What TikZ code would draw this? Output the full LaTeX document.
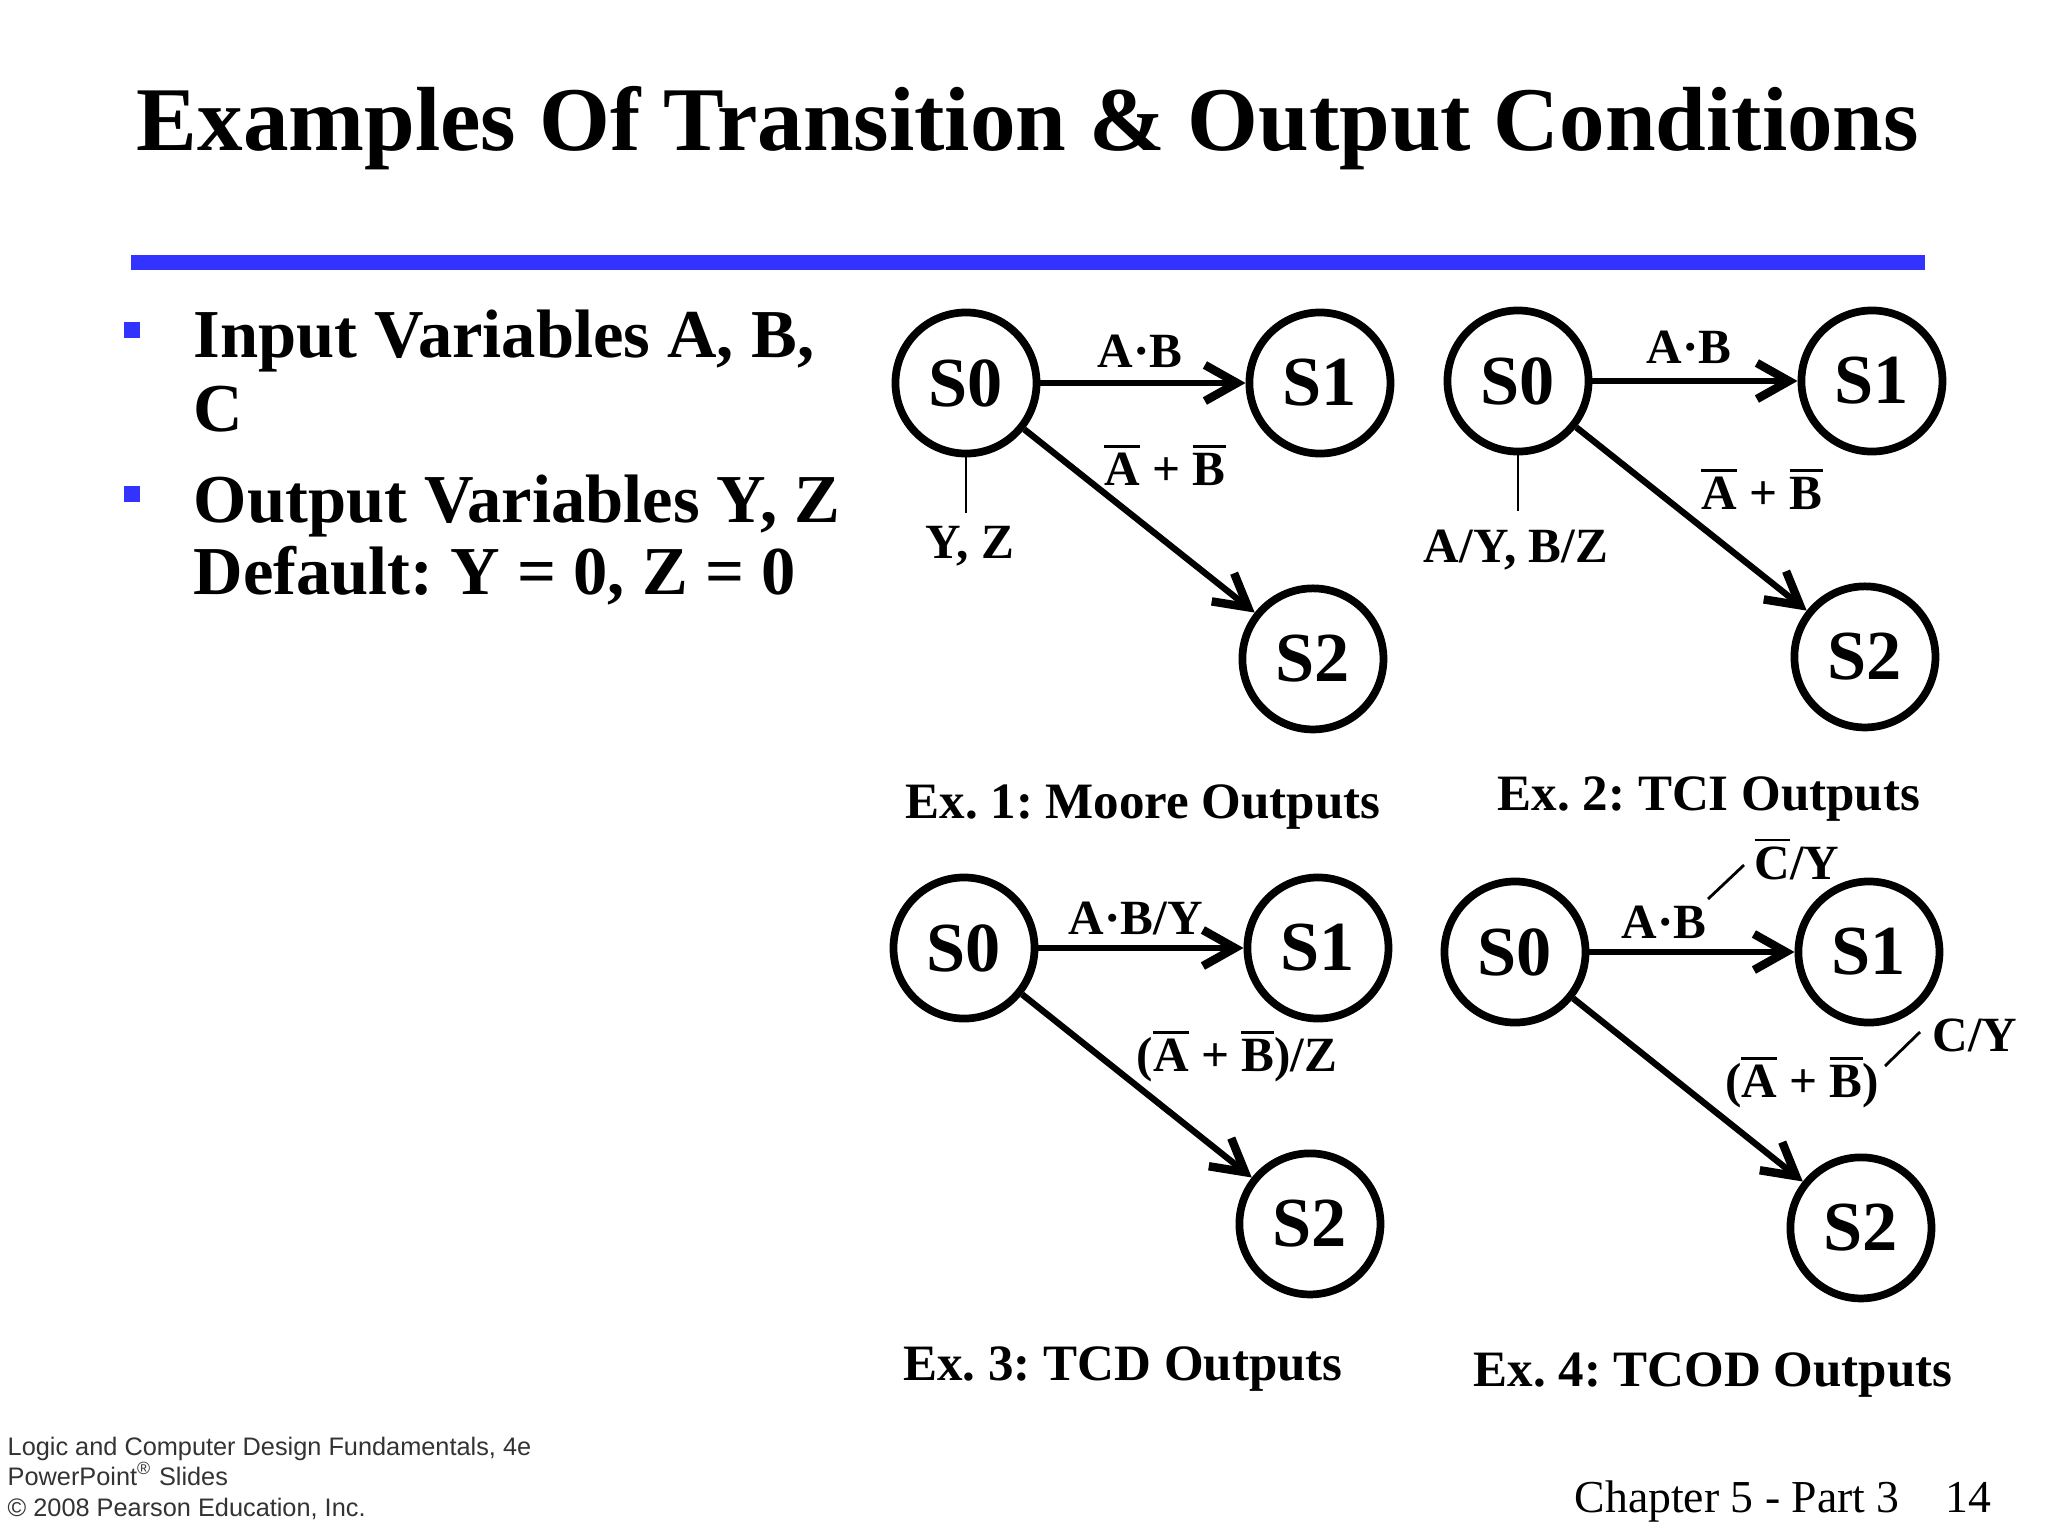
\documentclass[tikz,border=0pt]{standalone}
\usepackage{fontspec}
\setmainfont{Liberation Serif}
\newfontfamily\footfont{Liberation Sans}
\usetikzlibrary{arrows.meta,positioning}
\definecolor{slideblue}{RGB}{51,51,255}
\newcommand{\nbar}[1]{\leavevmode\vbox{\hrule height 0.85pt\kern1.4pt\hbox{#1}}}
\frenchspacing

\begin{document}
\begin{tikzpicture}[x=0.01cm, y=-0.01cm,
  node distance=2.05cm,
  state/.style={circle, draw, line width=2.2pt, minimum size=1.41cm,
    inner sep=0pt, font=\fontsize{20}{24}\selectfont\bfseries},
  lbl/.style={inner sep=0pt, anchor=base,
    font=\fontsize{14}{16}\selectfont\bfseries},
  excap/.style={inner sep=0pt, anchor=base,
    font=\fontsize{14.5}{17}\selectfont\bfseries},
  bulletbox/.style={fill=slideblue, minimum size=0.16cm, inner sep=0pt},
  btext/.style={inner sep=0pt, anchor=base west,
    font=\fontsize{19.5}{23}\selectfont\bfseries},
  foot/.style={inner sep=0pt, anchor=base west, text=black!80,
    font=\footfont\fontsize{7.2}{9}\selectfont},
  arrow/.style={-{Straight Barb[length=3.2mm,width=3.6mm,line width'=2.4pt]},
    line width=1.8pt},
  tick/.style={line width=0.8pt}]
  \fill[white] (0,0) rectangle (2048,1536);
  \useasboundingbox (0,0) rectangle (2048,1536);

  \node[anchor=base, inner sep=0pt, font=\fontsize{25.9}{30}\selectfont\bfseries]
    (title) at (1028,150) {Examples Of Transition \& Output Conditions};
  \fill[slideblue] (131,255) rectangle (1925,270);

  \node[bulletbox] (b1) at (132,330) {};
  \node[btext] (in1) at (193,357) {Input Variables A, B,};
  \node[btext] (in2) at (193,431) {C};
  \node[bulletbox] (b2) at (132,494) {};
  \node[btext] (out1) at (193,522) {Output Variables Y, Z};
  \node[btext] (out2) at (193,594) {Default: Y = 0, Z = 0};

  \node[state] (s0a) at (966,383) {S0};
  \node[state, right=of s0a] (s1a) {S1};
  \node[state, below=1.27cm of s1a, xshift=-0.07cm] (s2a) {S2};
  \coordinate (o1a) at (966,513);
  \draw[arrow] (s0a) -- (s1a);
  \draw[arrow] (s0a) -- (s2a);
  \draw[tick] (s0a) -- (o1a);
  \node[lbl] (ab1) at (1140,367) {A·B};
  \node[lbl] (nab1) at (1165,485) {\nbar{A} + \nbar{B}};
  \node[lbl] (yz1) at (970,558) {Y, Z};
  \node[excap] (ex1) at (1143,818) {Ex. 1: Moore Outputs};

  \node[state] (s0b) at (1518,381) {S0};
  \node[state, right=of s0b] (s1b) {S1};
  \node[state, below=1.27cm of s1b, xshift=-0.07cm] (s2b) {S2};
  \coordinate (o1b) at (1518,511);
  \draw[arrow] (s0b) -- (s1b);
  \draw[arrow] (s0b) -- (s2b);
  \draw[tick] (s0b) -- (o1b);
  \node[lbl] (ab2) at (1689,363) {A·B};
  \node[lbl] (nab2) at (1762,509) {\nbar{A} + \nbar{B}};
  \node[lbl] (yz2) at (1516,562) {A/Y, B/Z};
  \node[excap] (ex2) at (1709,810) {Ex. 2: TCI Outputs};

  \node[state] (s0c) at (964,948) {S0};
  \node[state, right=of s0c] (s1c) {S1};
  \node[state, below=1.27cm of s1c, xshift=-0.08cm] (s2c) {S2};
  \draw[arrow] (s0c) -- (s1c);
  \draw[arrow] (s0c) -- (s2c);
  \node[lbl] (ab3) at (1136,934) {A·B/Y};
  \node[lbl] (nab3) at (1237,1071) {(\nbar{A} + \nbar{B})/Z};
  \node[excap] (ex3) at (1123,1380) {Ex. 3: TCD Outputs};

  \node[state] (s0d) at (1515,952) {S0};
  \node[state, right=of s0d] (s1d) {S1};
  \node[state, below=1.27cm of s1d, xshift=-0.08cm] (s2d) {S2};
  \draw[arrow] (s0d) -- (s1d);
  \draw[arrow] (s0d) -- (s2d);
  \node[lbl] (ab4) at (1664,938) {A·B};
  \node[lbl] (cy4) at (1797,879) {\nbar{C}/Y};
  \node[lbl] (nab4) at (1802,1097) {(\nbar{A} + \nbar{B})};
  \node[lbl] (cyy4) at (1975,1051) {C/Y};
  \coordinate (t1d) at (1708,899);
  \coordinate (t2d) at (1744,865);
  \coordinate (t3d) at (1885,1066);
  \coordinate (t4d) at (1920,1032);
  \draw[tick] (t1d) -- (t2d);
  \draw[tick] (t3d) -- (t4d);
  \node[excap] (ex4) at (1713,1386) {Ex. 4: TCOD Outputs};

  \node[foot] (f1) at (7,1455) {Logic and Computer Design Fundamentals, 4e};
  \node[foot] (f2) at (7,1485) {PowerPoint\textsuperscript{®} Slides};
  \node[foot] (f3) at (7,1516) {© 2008 Pearson Education, Inc.};
  \node[inner sep=0pt, anchor=base west, font=\fontsize{13}{15}\selectfont]
    (chap) at (1574,1512) {Chapter 5 - Part 3};
  \node[inner sep=0pt, anchor=base west, font=\fontsize{13}{15}\selectfont]
    (pg) at (1945,1512) {14};
\end{tikzpicture}
\end{document}
